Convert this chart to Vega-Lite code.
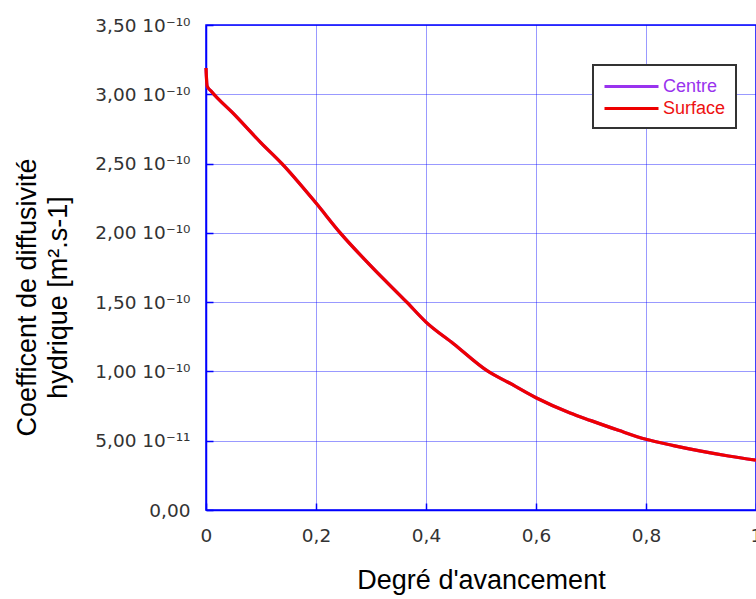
{
  "$schema": "https://vega.github.io/schema/vega-lite/v6.json",
  "width": 550,
  "height": 485,
  "autosize": "none",
  "padding": {"left": 206, "top": 25, "right": 0, "bottom": 89},
  "background": "white",
  "config": {
    "font": "Liberation Sans",
    "view": {"stroke": "#0000ff", "strokeWidth": 1.5},
    "axis": {
      "domainColor": "#0000ff",
      "domainWidth": 1.5,
      "gridColor": "#0000ff",
      "gridDash": [1, 1],
      "gridOpacity": 0.8,
      "tickColor": "#0000ff",
      "tickSize": -7,
      "tickWidth": 1.5,
      "labelFont": "DejaVu Sans",
      "labelFontSize": 18.5,
      "labelColor": "#333333",
      "titleFont": "Liberation Sans",
      "titleFontSize": 27,
      "titleFontWeight": "normal",
      "titleColor": "#000000"
    }
  },
  "data": {
    "values": [
      {"x": 0, "D": 3.19e-10, "s": "Centre"},
      {"x": 0.002, "D": 3.06e-10, "s": "Centre"},
      {"x": 0.01, "D": 3.02e-10, "s": "Centre"},
      {"x": 0.05, "D": 2.86e-10, "s": "Centre"},
      {"x": 0.1, "D": 2.65e-10, "s": "Centre"},
      {"x": 0.138, "D": 2.5e-10, "s": "Centre"},
      {"x": 0.2, "D": 2.215e-10, "s": "Centre"},
      {"x": 0.244, "D": 2.0e-10, "s": "Centre"},
      {"x": 0.3, "D": 1.76e-10, "s": "Centre"},
      {"x": 0.365, "D": 1.5e-10, "s": "Centre"},
      {"x": 0.4, "D": 1.356e-10, "s": "Centre"},
      {"x": 0.45, "D": 1.2e-10, "s": "Centre"},
      {"x": 0.513, "D": 1.0e-10, "s": "Centre"},
      {"x": 0.55, "D": 0.92e-10, "s": "Centre"},
      {"x": 0.6, "D": 0.81e-10, "s": "Centre"},
      {"x": 0.662, "D": 0.70e-10, "s": "Centre"},
      {"x": 0.7, "D": 0.645e-10, "s": "Centre"},
      {"x": 0.75, "D": 0.575e-10, "s": "Centre"},
      {"x": 0.8, "D": 0.51e-10, "s": "Centre"},
      {"x": 0.85, "D": 0.465e-10, "s": "Centre"},
      {"x": 0.9, "D": 0.425e-10, "s": "Centre"},
      {"x": 0.95, "D": 0.39e-10, "s": "Centre"},
      {"x": 1.0, "D": 0.36e-10, "s": "Centre"},
      {"x": 0, "D": 3.19e-10, "s": "Surface"},
      {"x": 0.002, "D": 3.06e-10, "s": "Surface"},
      {"x": 0.01, "D": 3.02e-10, "s": "Surface"},
      {"x": 0.05, "D": 2.86e-10, "s": "Surface"},
      {"x": 0.1, "D": 2.65e-10, "s": "Surface"},
      {"x": 0.138, "D": 2.5e-10, "s": "Surface"},
      {"x": 0.2, "D": 2.215e-10, "s": "Surface"},
      {"x": 0.244, "D": 2.0e-10, "s": "Surface"},
      {"x": 0.3, "D": 1.76e-10, "s": "Surface"},
      {"x": 0.365, "D": 1.5e-10, "s": "Surface"},
      {"x": 0.4, "D": 1.356e-10, "s": "Surface"},
      {"x": 0.45, "D": 1.2e-10, "s": "Surface"},
      {"x": 0.513, "D": 1.0e-10, "s": "Surface"},
      {"x": 0.55, "D": 0.92e-10, "s": "Surface"},
      {"x": 0.6, "D": 0.81e-10, "s": "Surface"},
      {"x": 0.662, "D": 0.70e-10, "s": "Surface"},
      {"x": 0.7, "D": 0.645e-10, "s": "Surface"},
      {"x": 0.75, "D": 0.575e-10, "s": "Surface"},
      {"x": 0.8, "D": 0.51e-10, "s": "Surface"},
      {"x": 0.85, "D": 0.465e-10, "s": "Surface"},
      {"x": 0.9, "D": 0.425e-10, "s": "Surface"},
      {"x": 0.95, "D": 0.39e-10, "s": "Surface"},
      {"x": 1.0, "D": 0.36e-10, "s": "Surface"}
    ]
  },
  "mark": {"type": "line", "strokeWidth": 3.2, "interpolate": "monotone"},
  "encoding": {
    "x": {
      "field": "x",
      "type": "quantitative",
      "scale": {"domain": [0, 1], "nice": false, "zero": false},
      "axis": {
        "title": "Degré d'avancement",
        "values": [0, 0.2, 0.4, 0.6, 0.8, 1],
        "labelExpr": "replace(format(datum.value, '~g'), '.', ',')",
        "labelPadding": 23,
        "titleBaseline": "alphabetic",
        "titleY": 78,
        "titleX": 275,
        "labelFlush": false
      }
    },
    "y": {
      "field": "D",
      "type": "quantitative",
      "scale": {"domain": [0, 3.5e-10], "nice": false},
      "axis": {
        "title": ["Coefficent de diffusivité", "hydrique [m².s-1]"],
        "values": [0, 5e-11, 1e-10, 1.5e-10, 2e-10, 2.5e-10, 3e-10, 3.5e-10],
        "labelExpr": "datum.value == 0 ? '0,00' : (datum.value < 0.9e-10 ? replace(format(datum.value * 1e11, '.2f'), '.', ',') + ' 10⁻¹¹' : replace(format(datum.value * 1e10, '.2f'), '.', ',') + ' 10⁻¹⁰')",
        "labelPadding": 23,
        "titleBaseline": "alphabetic",
        "titleX": -171,
        "titleY": 272,
        "titleLineHeight": 31,
        "labelFlush": false
      }
    },
    "color": {
      "field": "s",
      "type": "nominal",
      "scale": {"domain": ["Centre", "Surface"], "range": ["#9933ee", "#ee0000"]},
      "legend": {
        "title": null,
        "orient": "none",
        "legendX": 387,
        "legendY": 40,
        "direction": "vertical",
        "symbolType": "M-2.7,0H2.7",
        "symbolSize": 400,
        "symbolStrokeWidth": 3,
        "symbolOffset": 17,
        "labelOffset": 20,
        "labelFontSize": 18,
        "labelFont": "Liberation Sans",
        "rowPadding": 1,
        "padding": 10,
        "strokeColor": "#333333",
        "fillColor": "white",
        "encode": {
          "legend": {"update": {"strokeWidth": {"value": 2}}},
          "labels": {"update": {"fill": {"signal": "datum.value === 'Centre' ? '#9933ee' : '#ee1111'"}}}
        }
      }
    }
  }
}
